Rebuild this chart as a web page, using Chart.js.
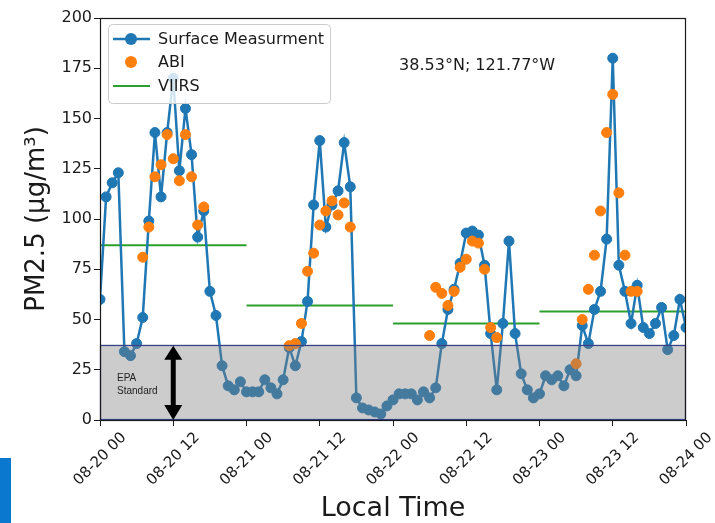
<!DOCTYPE html>
<html>
<head>
<meta charset="utf-8">
<script src="https://cdn.jsdelivr.net/npm/chart.js@4.4.1/dist/chart.umd.min.js"></script>
<style>
  html, body { margin: 0; padding: 0; background: #fff; }
</style>
</head>
<body>
<canvas id="pmChart" width="715" height="523"></canvas>
<script>
// tick labels of the time axis, one every 12 hours
const xTickLabels = ['08-20 00', '08-20 12', '08-21 00', '08-21 12', '08-22 00',
                     '08-22 12', '08-23 00', '08-23 12', '08-24 00'];

// hourly surface PM2.5, hour 0 = 08-20 00
const surfaceValues = [
  60, 111, 118, 123, 34, 32, 38, 51, 99, 143, 111, 143, 170, 124, 155, 132, 91, 104, 64, 52, 27, 17, 15, 19,
  14, 14, 14, 20, 16, 13, 20, 36, 27, 39, 59, 107, 139, 96, 107, 114, 138, 116, 11, 6, 5, 4, 3, 7,
  10, 13, 13, 13, 10, 14, 11, 16, 38, 55, 65, 78, 93, 94, 92, 77, 43, 15, 48, 89, 43, 23, 15, 11,
  13, 22, 20, 22, 17, 25, 22, 47, 38, 55, 64, 90, 180, 77, 64, 48, 67, 46, 43, 48, 56, 35, 42, 60,
  46
];

// ABI retrievals (hour, value)
const abiHours = [7, 8, 9, 10, 11, 12, 13, 14, 15, 16, 17,
                  31, 32, 33, 34, 35, 36, 37, 38, 39, 40, 41,
                  54, 55, 56, 57, 58, 59, 60, 61, 62, 63, 64, 65,
                  78, 79, 80, 81, 82, 83, 84, 85, 86, 87, 88];
const abiValues = [81, 96, 121, 127, 142, 130, 119, 142, 121, 97, 106,
                   37, 38, 48, 74, 83, 97, 104, 109, 102, 108, 96,
                   42, 66, 63, 57, 64, 76, 80, 89, 88, 75, 46, 41,
                   28, 50, 65, 82, 104, 143, 162, 113, 82, 64, 64];

// VIIRS daily means, one segment per day
const viirsStart = [0, 24, 48, 72];
const viirsEnd = [24, 48, 72, 96];
const viirsValues = [87, 57, 48, 54];

const epaLimit = 37.5;     // EPA standard band
const arrowHour = 12;      // where the double arrow sits
const locationText = '38.53°N; 121.77°W';

const surfaceData = surfaceValues.map((v, i) => ({ x: i, y: v }));
const abiData = abiHours.map((h, i) => ({ x: h, y: abiValues[i] }));
const viirsData = [];
viirsValues.forEach((v, i) => {
    if (i > 0) viirsData.push({ x: viirsStart[i], y: null });  // break between days
    viirsData.push({ x: viirsStart[i], y: v });
    viirsData.push({ x: viirsEnd[i], y: v });
});

Chart.defaults.font.family = "'DejaVu Sans', sans-serif";
Chart.defaults.color = '#1a1a1a';

// background, EPA band, arrow, texts, frame and legend box
const overlayPlugin = {
    id: 'overlay',
    beforeDraw(chart) {
        const ctx = chart.ctx;
        ctx.save();
        ctx.fillStyle = '#ffffff';
        ctx.fillRect(0, 0, chart.width, chart.height);
        ctx.restore();
    },
    afterDatasetsDraw(chart) {
        const { ctx, chartArea: a, scales: { x, y } } = chart;
        const top = y.getPixelForValue(epaLimit);
        const bottom = y.getPixelForValue(0);
        ctx.save();
        ctx.fillStyle = 'rgba(128,128,128,0.4)';
        ctx.fillRect(a.left, top, a.right - a.left, bottom - top);
        ctx.strokeStyle = '#34428c';
        ctx.lineWidth = 1.2;
        ctx.strokeRect(a.left + 0.5, Math.round(top) + 0.5, a.right - a.left - 1, bottom - Math.round(top) - 1);

        // double headed arrow
        const ax = x.getPixelForValue(arrowHour);
        const headH = 15, headW = 9;
        ctx.fillStyle = '#000';
        ctx.fillRect(ax - 2.5, top + headH - 1, 5, bottom - top - 2 * headH + 2);
        ctx.beginPath();
        ctx.moveTo(ax, top + 1);
        ctx.lineTo(ax + headW, top + headH);
        ctx.lineTo(ax - headW, top + headH);
        ctx.closePath();
        ctx.fill();
        ctx.beginPath();
        ctx.moveTo(ax, bottom);
        ctx.lineTo(ax + headW, bottom - headH);
        ctx.lineTo(ax - headW, bottom - headH);
        ctx.closePath();
        ctx.fill();

        ctx.fillStyle = '#222';
        ctx.font = "10px 'Liberation Sans', sans-serif";
        ctx.textAlign = 'left';
        ctx.textBaseline = 'middle';
        ctx.fillText('EPA', a.left + 17, top + 34);
        ctx.fillText('Standard', a.left + 17, top + 47);
        ctx.restore();
    },
    afterDraw(chart) {
        const { ctx, chartArea: a, scales: { x, y } } = chart;
        ctx.save();
        // axes frame
        ctx.strokeStyle = '#1a1a1a';
        ctx.lineWidth = 1.2;
        ctx.strokeRect(Math.round(a.left) + 0.5, Math.round(a.top) + 0.5,
                       Math.round(a.right - a.left) - 1, Math.round(a.bottom - a.top));

        // location label
        ctx.fillStyle = '#1a1a1a';
        ctx.font = "16px 'DejaVu Sans'";
        ctx.textAlign = 'left';
        ctx.textBaseline = 'middle';
        ctx.fillText(locationText, x.getPixelForValue(49), y.getPixelForValue(176));

        // legend
        const lx = a.left + 8, ly = a.top + 6, lw = 222, lh = 79;
        ctx.fillStyle = 'rgba(255,255,255,0.8)';
        ctx.strokeStyle = '#cccccc';
        ctx.lineWidth = 1;
        ctx.beginPath();
        ctx.roundRect(lx + 0.5, ly + 0.5, lw, lh, 4);
        ctx.fill();
        ctx.stroke();
        const rows = [ly + 15, ly + 38, ly + 62];
        chart.data.datasets.forEach((ds, i) => {
            const ry = rows[i];
            if (ds.showLine !== false) {
                ctx.strokeStyle = ds.borderColor;
                ctx.lineWidth = ds.borderWidth;
                ctx.beginPath();
                ctx.moveTo(lx + 5, ry);
                ctx.lineTo(lx + 42, ry);
                ctx.stroke();
            }
            if (ds.pointRadius > 0) {
                ctx.fillStyle = ds.pointBackgroundColor;
                ctx.beginPath();
                ctx.arc(lx + 23, ry, 6, 0, Math.PI * 2);
                ctx.fill();
            }
            ctx.fillStyle = '#1a1a1a';
            ctx.font = "16px 'DejaVu Sans'";
            ctx.fillText(ds.label, lx + 50, ry + 1);
        });

        // blue strip at the bottom left of the picture
        ctx.fillStyle = '#0b78d0';
        ctx.fillRect(0, 458, 11, 65);
        ctx.restore();
    }
};

const ctx = document.getElementById('pmChart').getContext('2d');
const pmChart = new Chart(ctx, {
    type: 'line',
    data: {
        datasets: [
            {
                label: 'Surface Measurment',
                data: surfaceData,
                borderColor: '#1f77b4',
                backgroundColor: '#1f77b4',
                pointBackgroundColor: '#1f77b4',
                pointBorderColor: '#1f77b4',
                borderWidth: 2.5,
                pointRadius: 5,
                pointBorderWidth: 1,
                tension: 0,
                clip: 0,
                order: 1
            },
            {
                label: 'ABI',
                data: abiData,
                showLine: false,
                borderColor: '#ff7f0e',
                backgroundColor: '#ff7f0e',
                pointBackgroundColor: '#ff7f0e',
                pointBorderColor: '#ff7f0e',
                pointRadius: 5,
                pointBorderWidth: 1,
                clip: 0,
                order: 0
            },
            {
                label: 'VIIRS',
                data: viirsData,
                borderColor: '#2ca02c',
                backgroundColor: '#2ca02c',
                borderWidth: 2,
                pointRadius: 0,
                spanGaps: false,
                clip: 0,
                order: 2
            }
        ]
    },
    options: {
        responsive: false,
        animation: false,
        devicePixelRatio: 1,
        layout: { padding: { top: 18, right: 29, left: 0, bottom: 0 } },
        plugins: {
            legend: { display: false },
            tooltip: { enabled: false }
        },
        scales: {
            x: {
                type: 'linear',
                min: 0,
                max: 96,
                afterFit: (scale) => { scale.height = 103; },
                afterBuildTicks: (scale) => {
                    scale.ticks = xTickLabels.map((_, i) => ({ value: i * 12 }));
                },
                ticks: {
                    autoSkip: false,
                    minRotation: 45,
                    maxRotation: 45,
                    labelOffset: 24,
                    padding: 3,
                    font: { size: 15 },
                    color: '#1a1a1a',
                    callback: (v) => xTickLabels[Math.round(v / 12)]
                },
                grid: { drawOnChartArea: false, drawTicks: true, tickLength: 6, color: '#1a1a1a' },
                border: { display: true, color: '#1a1a1a', width: 1 },
                title: {
                    display: true,
                    text: 'Local Time',
                    font: { size: 27, lineHeight: 1.05 },
                    color: '#1a1a1a',
                    padding: { top: 0, bottom: 0 }
                }
            },
            y: {
                min: 0,
                max: 200,
                afterFit: (scale) => { scale.width = 100; },
                ticks: {
                    stepSize: 25,
                    padding: 2,
                    font: { size: 16 },
                    color: '#1a1a1a'
                },
                grid: { drawOnChartArea: false, drawTicks: true, tickLength: 6, color: '#1a1a1a' },
                border: { display: true, color: '#1a1a1a', width: 1 },
                title: {
                    display: true,
                    text: 'PM2.5 (μg/m³)',
                    font: { size: 26 },
                    color: '#1a1a1a',
                    padding: { top: 22, bottom: 0 }
                }
            }
        }
    },
    plugins: [overlayPlugin]
});
</script>
</body>
</html>
